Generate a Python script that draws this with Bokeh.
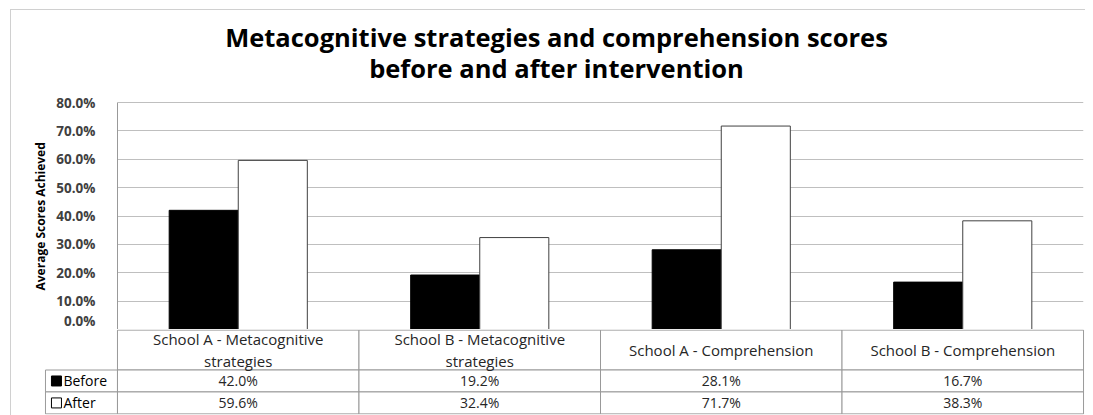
from bokeh.plotting import figure
from bokeh.models import Range1d, FactorRange, Label, Title, FixedTicker, PrintfTickFormatter, ColumnDataSource
from bokeh.layouts import column
from bokeh.transform import dodge
from bokeh.core.properties import value
from bokeh.embed import file_html
from bokeh.resources import INLINE

# ---------------- data ----------------
categories = ["School A - Metacognitive strategies", "School B - Metacognitive strategies",
              "School A - Comprehension", "School B - Comprehension"]
header_labels = ["School A - Metacognitive\nstrategies", "School B - Metacognitive\nstrategies",
                 "School A - Comprehension", "School B - Comprehension"]
series = ["Before", "After"]
before = [42.0, 19.2, 28.1, 16.7]
after = [59.6, 32.4, 71.7, 38.3]
y_ticks = [0, 10, 20, 30, 40, 50, 60, 70, 80]
title_lines = ["Metacognitive strategies and comprehension scores",
               "before and after intervention"]
y_label = "Average Scores Achieved"

FONT = "Open Sans"
GRID = "#bfbfbf"
BORDER = "#999999"

# page geometry
OX, OY = 11, 10          # content origin after outer border
FRAME_L, FRAME_R, FRAME_T, FRAME_B = 117, 1083, 102, 329   # plotting area (0..80 %)
TABLE_L, TABLE_B = 45, 413
TITLE_CX = 556
TITLE_BASELINES = [36, 67]
YLABEL_BOTTOM = 285

Y_MAX = 80
px_per_unit = (FRAME_B - FRAME_T) / Y_MAX
y_top = Y_MAX + (FRAME_T - OY) / px_per_unit     # room for the title inside the canvas
col_w_px = (FRAME_R - FRAME_L) / 4

# ---------------- chart ----------------
src = ColumnDataSource(dict(cat=categories, before=before, after=after))

W = FRAME_R + 2 - OX
p = figure(x_range=FactorRange(factors=categories), y_range=Range1d(0, y_top),
           width=W, height=FRAME_B - OY, title=None, frame_align=False,
           min_border_left=FRAME_L - OX, min_border_right=2,
           min_border_top=0, min_border_bottom=0,
           output_backend="svg", toolbar_location=None)

for line, base in zip(title_lines, TITLE_BASELINES):
    p.add_layout(Label(x=(TITLE_CX - FRAME_L) / col_w_px, y=(FRAME_B - base) / px_per_unit,
                       text=line, text_align="center", text_baseline="alphabetic",
                       text_font=FONT, text_font_size="25.5px", text_font_style="bold",
                       text_color="black"))

p.vbar(x=dodge("cat", -0.143, range=p.x_range), top="before", width=0.286, source=src,
       fill_color="black", line_color="black")
p.vbar(x=dodge("cat", 0.143, range=p.x_range), top="after", width=0.286, source=src,
       fill_color="white", line_color="#404040")

p.xaxis.visible = False
p.xgrid.visible = False
p.ygrid.ticker = FixedTicker(ticks=y_ticks)
p.ygrid.grid_line_color = GRID
p.yaxis.ticker = FixedTicker(ticks=y_ticks)
p.yaxis.bounds = (0, Y_MAX)
p.yaxis.formatter = PrintfTickFormatter(format="%.1f%%")
p.yaxis.major_tick_line_color = None
p.yaxis.minor_tick_line_color = None
p.yaxis.axis_line_color = BORDER
p.yaxis.major_label_text_font = FONT
p.yaxis.major_label_text_font_style = "bold"
p.yaxis.major_label_text_font_size = "13.5px"
p.yaxis.major_label_text_color = "#404040"
p.yaxis.major_label_standoff = 16
p.outline_line_color = None

# y-axis title, placed along the 0..80 % part of the axis
p.add_layout(Title(text=y_label, align="left", offset=(FRAME_B - 5) - YLABEL_BOTTOM,
                   vertical_align="bottom", text_font=FONT, text_font_style="bold",
                   text_font_size="12px", text_color="black"), "left")

# ---------------- data table below ----------------
leg_w = (FRAME_L - TABLE_L) / col_w_px
row_h = 22
head_h = 40
total_h = 2 * row_h + head_h
pad = 0.004

t = figure(x_range=Range1d(-leg_w - pad, 4 + pad), y_range=Range1d(-0.6, total_h + 0.6),
           width=W, height=TABLE_B + 2 - FRAME_B, frame_align=False,
           min_border_left=TABLE_L - OX - 1, min_border_right=1,
           min_border_top=0, min_border_bottom=1,
           output_backend="svg", toolbar_location=None)
t.axis.visible = False
t.grid.visible = False
t.outline_line_color = None

n = len(categories)
lefts = list(range(n))
rights = [i + 1 for i in range(n)]
centers = [i + 0.5 for i in range(n)]

t.quad(left=lefts, right=rights, bottom=2 * row_h, top=total_h,
       fill_color="white", line_color=BORDER)
for r, (name, vals) in enumerate(zip(series, [before, after])):
    y0 = row_h * (1 - r)
    t.quad(left=[-leg_w] + lefts, right=[0] + rights, bottom=y0, top=y0 + row_h,
           fill_color="white", line_color=BORDER)
    t.text(x=centers, y=[y0 + row_h / 2] * n, text=[f"{v:.1f}%" for v in vals],
           text_align="center", text_baseline="middle", text_font=value(FONT),
           text_font_size="14px", text_color="#262626")
    key_x = -leg_w + 11 / col_w_px
    t.rect(x=[key_x], y=[y0 + row_h / 2], width=10, height=10,
           width_units="screen", height_units="screen",
           fill_color="black" if name == "Before" else "white", line_color="black")
    t.text(x=[-leg_w + 18 / col_w_px], y=[y0 + row_h / 2], text=[name],
           text_align="left", text_baseline="middle", text_font=value(FONT),
           text_font_size="14px", text_color="black")

t.text(x=centers, y=[2 * row_h + head_h / 2] * n, text=header_labels,
       text_align="center", text_baseline="middle", text_font=value(FONT),
       text_font_size="15px", text_color="#262626", text_line_height=1.1)

layout = column(p, t, spacing=0, margin=(OY - 1, 0, 0, OX - 1),
                styles={"border-top": "1px solid #d0d0d0", "border-left": "1px solid #d0d0d0"})
open("out.html", "w").write(file_html(layout, INLINE))
